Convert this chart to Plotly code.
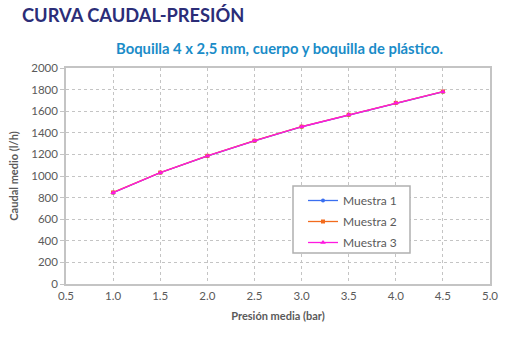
import plotly.graph_objects as go

# Flow vs. pressure measurements for three samples
presion = [1.0, 1.5, 2.0, 2.5, 3.0, 3.5, 4.0, 4.5]
muestra_1 = [845, 1030, 1185, 1325, 1455, 1565, 1675, 1780]
muestra_2 = [848, 1032, 1187, 1327, 1457, 1567, 1677, 1782]
muestra_3 = [846, 1031, 1186, 1326, 1456, 1566, 1676, 1781]
series_names = ["Muestra 1", "Muestra 2", "Muestra 3"]

x_ticks = [0.5, 1.0, 1.5, 2.0, 2.5, 3.0, 3.5, 4.0, 4.5, 5.0]
y_ticks = list(range(0, 2001, 200))

FONT = "Lato"
GRAY = "#5a5a5a"

# plot area in pixels
L, R, T, B = 66, 490, 68, 284
PW, PH = R - L, B - T


def px_x(px):
    return (px - L) / PW


def px_y(py):
    return (B - py) / PH


fig = go.Figure()
styles = [
    ("#3a6ff0", "circle", 4),
    ("#f26b1d", "square", 4),
    ("#ff19e0", "triangle-up", 5),
]
for i, (name, vals, (col, sym, size)) in enumerate(
        zip(series_names, [muestra_1, muestra_2, muestra_3], styles)):
    fig.add_trace(go.Scatter(
        x=presion, y=vals, name=name, mode="lines+markers",
        legendgroup=f"g{i}",
        line=dict(color=col, width=1.3),
        marker=dict(symbol=sym, size=size, color=col),
    ))

fig.update_layout(
    width=520, height=340,
    margin=dict(l=L, r=520 - R, t=T, b=340 - B),
    paper_bgcolor="white", plot_bgcolor="white",
    font=dict(family=FONT, color=GRAY, size=11),
    showlegend=True,
    legend=dict(
        x=px_x(303), y=px_y(186), xanchor="left", yanchor="top",
        bgcolor="rgba(0,0,0,0)", borderwidth=0,
        font=dict(family=FONT, size=12, color=GRAY),
        itemwidth=30, tracegroupgap=2,
    ),
)

# legend frame
fig.add_shape(type="rect", xref="paper", yref="paper",
              x0=px_x(293), x1=px_x(410), y0=px_y(253), y1=px_y(186),
              line=dict(color="#b0b0b0", width=1.5), fillcolor="white", layer="above")

fig.add_annotation(text="<b>CURVA CAUDAL-PRESIÓN</b>", xref="paper", yref="paper",
                   x=px_x(20), y=px_y(15), xanchor="left", yanchor="middle",
                   showarrow=False, font=dict(family=FONT, size=18.3, color="#2b2d78"))
fig.add_annotation(text="<b>Boquilla 4 x 2,5 mm, cuerpo y boquilla de plástico.</b>",
                   xref="paper", yref="paper",
                   x=px_x(279), y=px_y(48), xanchor="center", yanchor="middle",
                   showarrow=False, font=dict(family=FONT, size=14.8, color="#1a8cc8"))

fig.update_xaxes(
    range=[0.5, 5.0], tickvals=x_ticks, ticktext=[f"{v:.1f}" for v in x_ticks],
    showgrid=True, gridcolor="#c4c4c4", griddash="dot", gridwidth=1,
    showline=True, linecolor="#c4c4c4", linewidth=1.5, mirror=True,
    zeroline=False, ticks="", ticklen=0,
    title=dict(text="<b>Presión media (bar)</b>", font=dict(size=11, color=GRAY), standoff=12),
    tickfont=dict(size=11.5, color=GRAY),
)
fig.update_yaxes(
    range=[0, 2000], tickvals=y_ticks,
    showgrid=True, gridcolor="#c4c4c4", griddash="dot", gridwidth=1,
    showline=True, linecolor="#c4c4c4", linewidth=1.5, mirror=True,
    zeroline=False, ticks="outside", ticklen=4, tickcolor="#c4c4c4",
    title=dict(text="<b>Caudal medio (l/h)</b>", font=dict(size=11, color=GRAY), standoff=10),
    tickfont=dict(size=11.5, color=GRAY),
)

fig.write_html("out.html")
